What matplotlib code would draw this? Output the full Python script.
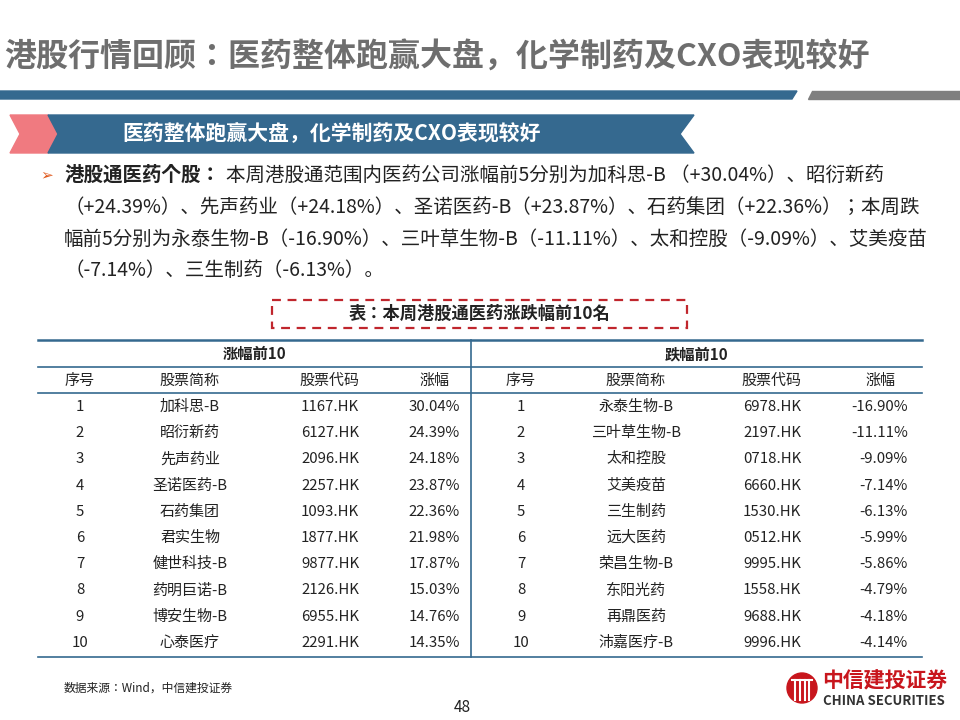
import matplotlib
matplotlib.use("Agg")
import matplotlib.pyplot as plt
from matplotlib import font_manager as fm
from matplotlib.patches import Polygon, Rectangle, Circle

cjk = [f.name for f in fm.fontManager.ttflist if "CJK" in f.name]
pref = [n for n in ["Noto Sans CJK SC", "Noto Sans CJK JP", "Noto Sans CJK TC", "Noto Sans CJK KR"] if n in cjk]
CJK = pref[0] if pref else (cjk[0] if cjk else "DejaVu Sans")
plt.rcParams["font.family"] = [CJK, "DejaVu Sans"]

up_rank = list(range(1, 11))
up_names = ["加科思-B", "昭衍新药", "先声药业", "圣诺医药-B", "石药集团", "君实生物", "健世科技-B", "药明巨诺-B", "博安生物-B", "心泰医疗"]
up_codes = ["1167.HK", "6127.HK", "2096.HK", "2257.HK", "1093.HK", "1877.HK", "9877.HK", "2126.HK", "6955.HK", "2291.HK"]
up_chg = [30.04, 24.39, 24.18, 23.87, 22.36, 21.98, 17.87, 15.03, 14.76, 14.35]
dn_rank = list(range(1, 11))
dn_names = ["永泰生物-B", "三叶草生物-B", "太和控股", "艾美疫苗", "三生制药", "远大医药", "荣昌生物-B", "东阳光药", "再鼎医药", "沛嘉医疗-B"]
dn_codes = ["6978.HK", "2197.HK", "0718.HK", "6660.HK", "1530.HK", "0512.HK", "9995.HK", "1558.HK", "9688.HK", "9996.HK"]
dn_chg = [-16.90, -11.11, -9.09, -7.14, -6.13, -5.99, -5.86, -4.79, -4.18, -4.14]
col_headers = ["序号", "股票简称", "股票代码", "涨幅"]

fig = plt.figure(figsize=(9.6, 7.2), dpi=100)
ax = fig.add_axes([0, 0, 1, 1])
ax.set_xlim(0, 960); ax.set_ylim(720, 0); ax.axis("off")

blue = "#35698f"
# title
ax.text(4, 58, "港股行情回顾：医药整体跑赢大盘，化学制药及CXO表现较好", fontsize=23, weight="bold", color="#6e6e6e", va="center")
ax.add_patch(Polygon([[0, 91], [797, 91], [792, 99], [0, 99]], color=blue))
ax.add_patch(Polygon([[812, 91], [960, 91], [960, 99], [808, 99]], color="#7f7f7f"))
# banner
ax.add_patch(Polygon([[10, 115], [48, 115], [58, 134], [48, 153], [10, 153], [20, 134]], color="#f07a80"))
ax.add_patch(Polygon([[48, 115], [694, 115], [680, 134], [694, 153], [48, 153], [58, 134]], color=blue))
ax.text(122, 134, "医药整体跑赢大盘，化学制药及CXO表现较好", fontsize=15, weight="bold", color="white", va="center")
# bullet text
ax.text(40, 175, "➢", fontsize=11, color="#e05a1e", va="center", family="DejaVu Sans")
ax.text(64, 175, "港股通医药个股：", fontsize=14, weight="bold", color="#222", va="center")
ax.text(226, 175, "本周港股通范围内医药公司涨幅前5分别为加科思-B （+30.04%）、昭衍新药", fontsize=14, color="#222", va="center")
lines = ["（+24.39%）、先声药业（+24.18%）、圣诺医药-B（+23.87%）、石药集团（+22.36%）；本周跌",
         "幅前5分别为永泰生物-B（-16.90%）、三叶草生物-B（-11.11%）、太和控股（-9.09%）、艾美疫苗",
         "（-7.14%）、三生制药（-6.13%）。"]
for i, s in enumerate(lines):
    ax.text(64, 207 + 32 * i, s, fontsize=14, color="#222", va="center")
# table title box
ax.add_patch(Rectangle((272, 300), 415, 28, fill=False, ec="#c0262d", lw=1.6, ls=(0, (4, 3))))
ax.text(480, 314, "表：本周港股通医药涨跌幅前10名", fontsize=12.4, weight="bold", color="#222", ha="center", va="center")

# table
L, R, M = 38, 922, 471
for y, lw in [(340, 1.8), (367, 1.2), (393, 1.2), (657, 1.2)]:
    ax.plot([L, R], [y, y], color=blue, lw=lw)
ax.plot([M, M], [340, 657], color=blue, lw=1.2)
ax.text((L + M) / 2, 354, "涨幅前10", fontsize=11, weight="bold", ha="center", va="center", color="#222")
ax.text((M + R) / 2, 354, "跌幅前10", fontsize=11, weight="bold", ha="center", va="center", color="#222")
left_x = [80, 190, 330, 434]
right_x = [521, 636, 772, 881]
for xs in (left_x, right_x):
    for x, h in zip(xs, col_headers):
        ax.text(x, 381, h, fontsize=10.8, ha="center", va="center", color="#222")
for i in range(10):
    y = 407 + 26.2 * i
    for xs, rk, nm, cd, ch, rx in ((left_x, up_rank, up_names, up_codes, up_chg, 460),
                                   (right_x, dn_rank, dn_names, dn_codes, dn_chg, 908)):
        ax.text(xs[0], y, str(rk[i]), fontsize=10.8, ha="center", va="center", color="#222")
        ax.text(xs[1], y, nm[i], fontsize=10.8, ha="center", va="center", color="#222")
        ax.text(xs[2], y, cd[i], fontsize=10.8, ha="center", va="center", color="#222")
        ax.text(rx, y, f"{ch[i]:.2f}%", fontsize=10.8, ha="right", va="center", color="#222")

ax.text(64, 688, "数据来源：Wind，中信建投证券", fontsize=8.5, va="center", color="#222")
ax.text(462, 707, "48", fontsize=11, ha="center", va="center", color="#222")
# logo
ax.add_patch(Circle((802, 688), 15, color="#c8161d"))
for dx in (-7, -2.5, 2.5, 7):
    ax.plot([802 + dx, 802 + dx], [680, 700], color="white", lw=1.5)
ax.plot([792, 812], [680, 680], color="white", lw=1.5)
ax.text(822, 681, "中信建投证券", fontsize=15, weight="bold", color="#c8161d", va="center")
ax.text(823, 701, "CHINA SECURITIES", fontsize=9.5, weight="bold", color="#333", va="center")

fig.savefig("out.png", dpi=100)
